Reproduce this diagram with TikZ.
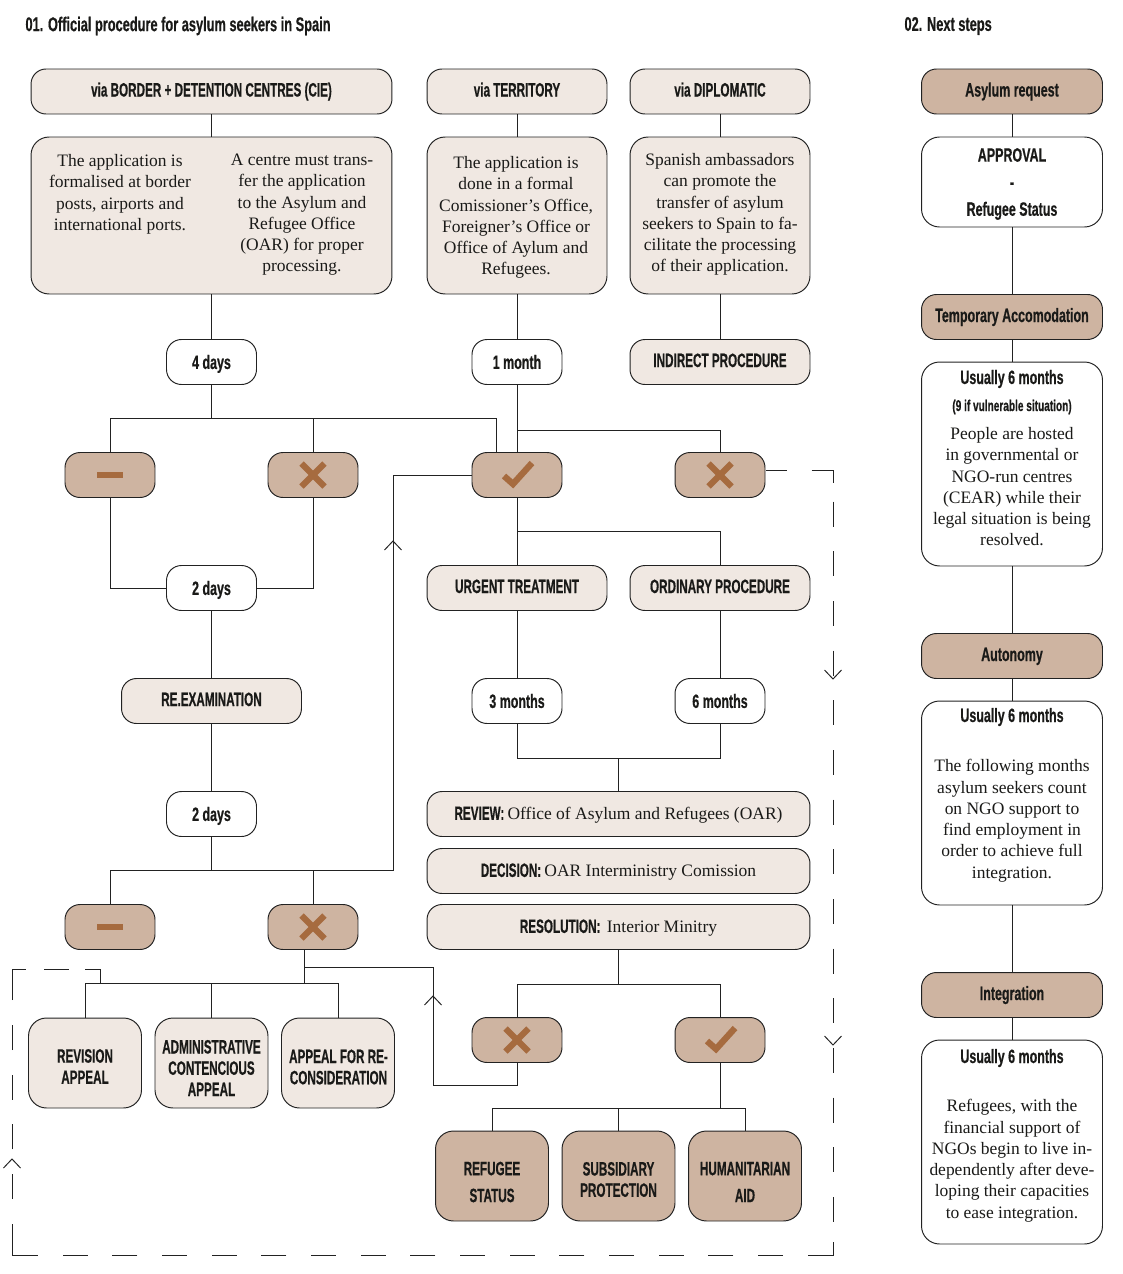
\documentclass[tikz,border=0pt]{standalone}
\usepackage{fontspec}
\setmainfont{Liberation Serif}
\newfontfamily\dinfont[FakeStretch=0.645,BoldFeatures={FakeBold=0.5}]{Liberation Sans}
\newfontfamily\capsfont[FakeStretch=0.605,BoldFeatures={FakeBold=0.5}]{Liberation Sans}
\usetikzlibrary{positioning}
\definecolor{palebox}{HTML}{F0E8E2}
\definecolor{darkbox}{HTML}{CEB4A1}
\definecolor{markbrown}{HTML}{A66B3F}
\definecolor{linegray}{HTML}{222222}
\definecolor{inkblack}{HTML}{1A1A18}
\newcommand{\bodyfont}{\normalfont\fontsize{9.95}{12}\selectfont}
\newcommand{\crossmark}[1]{
\draw[markline] (#1) ++(-11.5,-11.5) -- ++(23,23);
\draw[markline] (#1) ++(11.5,-11.5) -- ++(-23,23);}
\newcommand{\minusmark}[1]{\draw[markline] (#1) ++(-13,0) -- ++(26,0);}
\newcommand{\checkmark}[1]{\draw[markline] (#1) ++(-13,1) -- ++(9,8) -- ++(19,-21);}
\tikzset{
  every path/.style={line width=0.55pt, color=linegray},
  markline/.style={line width=3.6pt, color=markbrown},
  flowdash/.style={dash pattern=on 14.22pt off 14.05pt},
  pill/.style={draw, rounded corners=0.3cm, minimum height=0.9cm, inner sep=0pt, text=inkblack},
  lowerfont/.style={font=\dinfont\bfseries\fontsize{11}{12}\selectfont},
  capsfont/.style={font=\capsfont\bfseries\fontsize{11}{12}\selectfont},
  palepill/.style={pill, capsfont, fill=palebox, minimum width=3.6cm, text height=7.9pt, text depth=2.2pt},
  rowpill/.style={palepill, minimum width=7.66cm, text depth=1.2pt},
  whitepill/.style={pill, lowerfont, fill=white, minimum width=1.8cm, text height=7.9pt, text depth=0pt},
  markpill/.style={pill, fill=darkbox, minimum width=1.8cm},
  stagepill/.style={pill, lowerfont, fill=darkbox, minimum width=3.62cm, text height=7.9pt, text depth=2.2pt},
  textbox/.style={draw, rounded corners=0.36cm, inner sep=0pt, minimum width=3.62cm},
  appealbox/.style={pill, fill=palebox, rounded corners=0.36cm, minimum width=2.26cm, minimum height=1.8cm},
  outcomebox/.style={appealbox, fill=darkbox},
  bodytext/.style={align=center, inner sep=0pt, text=inkblack, font=\fontsize{9.95}{12.1}\selectfont},
  headtext/.style={align=center, inner sep=0pt, text=inkblack, lowerfont},
  capstext/.style={align=center, inner sep=0pt, text=inkblack, font=\capsfont\bfseries\fontsize{11}{12.1}\selectfont},
  titletext/.style={headtext, anchor=west, font=\dinfont\bfseries\fontsize{11.3}{13}\selectfont},
}
\begin{document}
\begin{tikzpicture}[x=0.02cm, y=-0.02cm]
\useasboundingbox (0,0) rectangle (1122,1274);
%\draw[help lines, color=gray!30, dashed] (0,0) grid[step=100] (1122,1274);

% titles
\node[titletext] (titleone) at (25,26) {01. Official procedure for asylum seekers in Spain};
\node[titletext] (titletwo) at (904,26) {02. Next steps};

% the three ways in
\node[palepill, minimum width=7.22cm] (viaborder) at (211.5,91.5) {via BORDER + DETENTION CENTRES (CIE)};
\node[palepill] (viaterritory) at (517,91.5) {via TERRITORY};
\node[palepill] (viadiplomatic) at (720,91.5) {via DIPLOMATIC};
\node[textbox, fill=palebox, minimum width=7.22cm, minimum height=3.14cm] (infoborder) at (211.5,215.5) {};
\node[textbox, fill=palebox, minimum width=3.6cm, minimum height=3.14cm] (infoterritory) at (517,215.5) {};
\node[textbox, fill=palebox, minimum width=3.6cm, minimum height=3.14cm] (infodiplomatic) at (720,215.5) {};
\node[bodytext, anchor=north] (infoborderl) at (120,154) {The application is\\formalised at border\\posts, airports and\\international ports.};
\node[bodytext, anchor=north] (infoborderr) at (302,153.5) {A centre must trans-\\fer the application\\to the Asylum and\\Refugee Office\\(OAR) for proper\\processing.};
\node[bodytext, anchor=north] (infoterritoryt) at (516,156) {The application is\\done in a formal\\Comissioner's Office,\\Foreigner's Office or\\Office of Aylum and\\Refugees.};
\node[bodytext, anchor=north] (infodiplomatict) at (720,153) {Spanish ambassadors\\can promote the\\transfer of asylum\\seekers to Spain to fa-\\cilitate the processing\\of their application.};

% first decisions
\node[whitepill] (fourdays) at (211.5,362) {4 days};
\node[whitepill] (onemonth) at (517,362) {1 month};
\node[palepill] (indirect) at (720,362) {INDIRECT PROCEDURE};
\node[markpill] (minusa) at (110,475) {};
\node[markpill] (crossa) at (313,475) {};
\node[markpill] (checka) at (517,475) {};
\node[markpill] (crossb) at (720,475) {};
\minusmark{minusa}
\crossmark{crossa}
\checkmark{checka}
\crossmark{crossb}

% re-examination
\node[whitepill] (twodaysa) at (211.5,588) {2 days};
\node[palepill] (reexam) at (211.5,701) {RE.EXAMINATION};
\node[whitepill] (twodaysb) at (211.5,814) {2 days};
\node[markpill] (minusb) at (110,927) {};
\node[markpill] (crossc) at (313,927) {};
\minusmark{minusb}
\crossmark{crossc}

% admitted applications
\node[palepill] (urgent) at (517,588) {URGENT TREATMENT};
\node[palepill] (ordinary) at (720,588) {ORDINARY PROCEDURE};
\node[whitepill] (threemonths) at (517,701) {3 months};
\node[whitepill] (sixmonths) at (720,701) {6 months};
\node[rowpill] (review) at (618.5,814) {REVIEW: \bodyfont Office of Asylum and Refugees (OAR)};
\node[rowpill] (decision) at (618.5,871) {DECISION: \bodyfont OAR Interministry Comission};
\node[rowpill] (resolution) at (618.5,927) {RESOLUTION:\ \ \bodyfont Interior Minitry};
\node[markpill] (crossd) at (517,1040) {};
\node[markpill] (checkb) at (720,1040) {};
\crossmark{crossd}
\checkmark{checkb}
\node[outcomebox] (refugee) at (492,1176) {};
\node[outcomebox] (subsidiary) at (618.5,1176) {};
\node[outcomebox] (humanitarian) at (745,1176) {};
\node[capstext] (refugeet) at (492,1182) {REFUGEE\\[3.2pt]STATUS};
\node[capstext] (subsidiaryt) at (618.5,1179.5) {SUBSIDIARY\\PROTECTION};
\node[capstext] (humanitariant) at (745,1182) {HUMANITARIAN\\[3.2pt]AID};

% appeals
\node[appealbox] (revision) at (85,1063) {};
\node[appealbox] (admin) at (211.5,1063) {};
\node[appealbox] (reconsider) at (338,1063) {};
\node[capstext] (revisiont) at (85,1066.5) {REVISION\\APPEAL};
\node[capstext] (admint) at (211.5,1068) {ADMINISTRATIVE\\CONTENCIOUS\\APPEAL};
\node[capstext] (reconsidert) at (338.5,1067) {APPEAL FOR RE-\\CONSIDERATION};

% next steps
\node[stagepill] (request) at (1012,91.5) {Asylum request};
\node[textbox, fill=white, minimum height=1.8cm] (approval) at (1012,182) {};
\node[headtext] (approvalt) at (1012,184) {APPROVAL\\[3.4pt]-\\[3.4pt]Refugee Status};
\node[stagepill] (temporary) at (1012,317) {Temporary Accomodation};
\node[textbox, fill=white, minimum height=4.08cm] (stayone) at (1012,464) {};
\node[headtext] (stayonea) at (1012,379) {Usually 6 months};
\node[headtext, font=\dinfont\bfseries\fontsize{8.9}{10}\selectfont] (stayoneb) at (1012,407) {(9 if vulnerable situation)};
\node[bodytext, anchor=north] (stayonec) at (1012,427) {People are hosted\\in governmental or\\NGO-run centres\\(CEAR) while their\\legal situation is being\\resolved.};
\node[stagepill] (autonomy) at (1012,656) {Autonomy};
\node[textbox, fill=white, minimum height=4.08cm] (staytwo) at (1012,803) {};
\node[headtext] (staytwoa) at (1012,717) {Usually 6 months};
\node[bodytext, anchor=north] (staytwob) at (1012,759) {The following months\\asylum seekers count\\on NGO support to\\find employment in\\order to achieve full\\integration.};
\node[stagepill] (integration) at (1012,995) {Integration};
\node[textbox, fill=white, minimum height=4.08cm] (staythree) at (1012,1142) {};
\node[headtext] (staythreea) at (1012,1058) {Usually 6 months};
\node[bodytext, anchor=north] (staythreeb) at (1012,1099) {Refugees, with the\\financial support of\\NGOs begin to live in-\\dependently after deve-\\loping their capacities\\to ease integration.};

% junctions and free ends
\coordinate (busleft) at (211.5,418);
\coordinate (checkin) at (496,453);
\coordinate (busright) at (517,430);
\coordinate (busurgent) at (517,531);
\coordinate (busmonths) at (618.5,758);
\coordinate (busretry) at (211.5,870);
\coordinate (retryup) at (393,870);
\coordinate (crossfoot) at (304,950);
\coordinate (busappeal) at (304,983);
\coordinate (busagain) at (304,967);
\coordinate (againright) at (433,967);
\coordinate (againfoot) at (433,1085);
\coordinate (busresult) at (618.5,984);
\coordinate (busstatus) at (618.5,1108);
\coordinate (dashfrom) at (766,470);
\coordinate (dashto) at (100,983);

% connectors
\draw (viaborder) -- (infoborder);
\draw (viaterritory) -- (infoterritory);
\draw (viadiplomatic) -- (infodiplomatic);
\draw (infoborder) -- (fourdays);
\draw (infoterritory) -- (onemonth);
\draw (infodiplomatic) -- (indirect);
\draw (fourdays) -- (busleft);
\draw (minusa) |- (checkin |- busleft) -- (checkin);
\draw (crossa) -- (crossa |- busleft);
\draw (onemonth) -- (checka);
\draw (busright) -| (crossb);
\draw (minusa) |- (twodaysa);
\draw (crossa) |- (twodaysa);
\draw (twodaysa) -- (reexam);
\draw (reexam) -- (twodaysb);
\draw (twodaysb) -- (busretry);
\draw (minusb) |- (crossc |- busretry) -- (crossc);
\draw (busretry) -- (retryup) |- (checka);
\draw (checka) -- (urgent);
\draw (busurgent) -| (ordinary);
\draw (urgent) -- (threemonths);
\draw (ordinary) -- (sixmonths);
\draw (threemonths) |- (busmonths);
\draw (sixmonths) |- (busmonths);
\draw (busmonths) -- (review);
\draw (resolution) -- (busresult);
\draw (crossd) |- (busresult);
\draw (checkb) |- (busresult);
\draw (checkb) -- (checkb |- busstatus);
\draw (refugee) |- (busstatus);
\draw (humanitarian) |- (busstatus);
\draw (subsidiary) -- (busstatus);
\draw (crossfoot) -- (busappeal);
\draw (revision) |- (busappeal);
\draw (reconsider) |- (busappeal);
\draw (admin) -- (admin |- busappeal);
\draw (crossd) |- (againfoot) -- (againright) -- (busagain);
\draw (request) -- (approval);
\draw (approval) -- (temporary);
\draw (temporary) -- (stayone);
\draw (stayone) -- (autonomy);
\draw (autonomy) -- (staytwo);
\draw (staytwo) -- (integration);
\draw (integration) -- (staythree);

% dashed way back: straight runs, then the corner pieces
\draw[flowdash] (833,501.7) -- (833,1223);
\draw[flowdash] (783,1255) -- (62,1255);
\draw[flowdash] (12,1199) -- (12,1025);
\draw[flowdash] (44,969) -- (69,969);
\draw (dashfrom) -- (787,470);
\draw (811.7,470) -- (833,470) -- (833,483);
\draw (833,1242) -- (833,1255) -- (808,1255);
\draw (37.7,1255) -- (12,1255) -- (12,1224);
\draw (12,1000) -- (12,969) -- (25.7,969);
\draw (85,969) -- (100,969) -- (dashto);

% open arrow heads
\draw (384.5,550) -- (393,541) -- (401.5,550);
\draw (424.5,1005) -- (433,996) -- (441.5,1005);
\draw (3.5,1168) -- (12,1159) -- (20.5,1168);
\draw (824.5,670) -- (833,679) -- (841.5,670);
\draw (824.5,1036) -- (833,1045) -- (841.5,1036);
\end{tikzpicture}
\end{document}
